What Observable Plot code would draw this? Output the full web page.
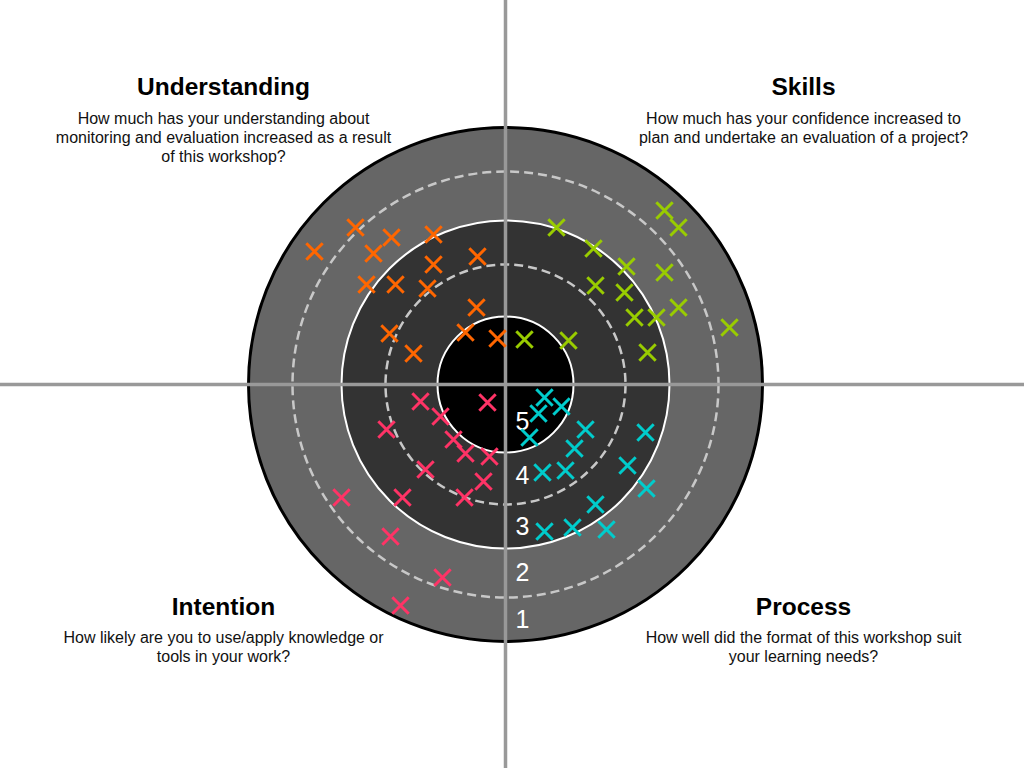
<!DOCTYPE html>
<html>
<head>
<meta charset="utf-8">
<script src="https://cdn.jsdelivr.net/npm/d3@7"></script>
<script src="https://cdn.jsdelivr.net/npm/@observablehq/plot@0.6"></script>
<style>
  html, body { margin: 0; padding: 0; background: #fff; }
  #chart { width: 1024px; height: 768px; overflow: hidden; }
</style>
</head>
<body>
<div id="chart"></div>
<script>
// ---- Data ----
const quadrants = ["Understanding", "Skills", "Intention", "Process"];
const questions = [
  "How much has your understanding about\nmonitoring and evaluation increased as a result\nof this workshop?",
  "How much has your confidence increased to\nplan and undertake an evaluation of a project?",
  "How likely are you to use/apply knowledge or\ntools in your work?",
  "How well did the format of this workshop suit\nyour learning needs?"
];
const quadrantColors = ["#ff6600", "#99cc00", "#ff3366", "#00cccc"];

// score levels (inner to outer) and the outer radius of each ring
const levels = [5, 4, 3, 2, 1];
const ringOuterRadius = [68, 120, 164, 213, 257];

// responses, as [x, y] offsets from the bullseye centre
const understandingPoints = [
  [-191, 133], [-150, 157], [-114, 147], [-132, 131], [-72, 150],
  [-28, 128], [-72, 120], [-139, 100], [-110, 100], [-78, 96],
  [-29, 77], [-116, 51], [-40, 52], [-92, 31], [-8, 46]
];
const skillsPoints = [
  [159, 174], [173, 157], [51, 157], [88, 136], [121, 118],
  [159, 112], [90, 99], [119, 92], [173, 77], [129, 67],
  [151, 67], [224, 57], [19, 45], [63, 44], [142, 32]
];
const intentionPoints = [
  [-85, -17], [-18, -18], [-65, -32], [-119, -45], [-52, -55],
  [-40, -69], [-16, -72], [-80, -85], [-22, -97], [-164, -113],
  [-103, -113], [-41, -113], [-115, -152], [-63, -193], [-105, -221]
];
const processPoints = [
  [39, -13], [33, -29], [56, -22], [24, -53], [80, -45],
  [69, -64], [140, -48], [37, -88], [60, -86], [122, -81],
  [141, -104], [90, -120], [39, -147], [67, -143], [101, -145]
];

// ---- Build tables ----
const pointSets = [understandingPoints, skillsPoints, intentionPoints, processPoints];
const responses = pointSets.flatMap((pts, q) =>
  pts.map(([x, y]) => ({quadrant: quadrants[q], x, y}))
);
const rings = levels.map((level, i) => ({
  level,
  outer: ringOuterRadius[i],
  inner: i === 0 ? 0 : ringOuterRadius[i - 1]
}));
const ringByLevel = Object.fromEntries(rings.map(d => [d.level, d]));

const font = "'Liberation Sans', Arial, Helvetica, sans-serif";
const leftX = -282, rightX = 298;
const quadText = quadrants.map((q, i) => ({
  title: q,
  question: questions[i],
  x: i % 2 === 0 ? leftX : rightX,
  top: i < 2
}));

const chart = Plot.plot({
  width: 1024,
  height: 768,
  margin: 0,
  x: {domain: [-505, 519], axis: null},
  y: {domain: [-384, 384], axis: null},
  r: {type: "identity"},
  color: {domain: quadrants, range: quadrantColors},
  style: {background: "#fff", fontFamily: font},
  marks: [
    // outer band (levels 1-2)
    Plot.dot([ringByLevel[1]], {x: 0, y: 0, r: "outer", fill: "#666", stroke: "#000", strokeWidth: 3}),
    // middle band (levels 3-4)
    Plot.dot([ringByLevel[3]], {x: 0, y: 0, r: "outer", fill: "#333", stroke: "#fff", strokeWidth: 2}),
    // bullseye (level 5)
    Plot.dot([ringByLevel[5]], {x: 0, y: 0, r: "outer", fill: "#000", stroke: "#fff", strokeWidth: 2}),
    // dashed level boundaries
    Plot.dot([ringByLevel[2], ringByLevel[4]], {x: 0, y: 0, r: "outer", fill: "none", stroke: "#c8c8c8", strokeWidth: 2.5, strokeDasharray: "9,5", sort: null}),
    // quadrant dividers
    Plot.ruleX([0], {stroke: "#999", strokeWidth: 3.5}),
    Plot.ruleY([0], {stroke: "#999", strokeWidth: 3.5}),
    // level labels
    Plot.text(rings, {
      x: 17, y: d => -(d.inner + d.outer) / 2 - (d.level === 5 ? 3 : d.level === 4 ? -3 : 0), text: d => String(d.level),
      fill: "#fff", fontSize: 25, lineAnchor: "middle", textAnchor: "middle", fontFamily: font
    }),
    // responses
    Plot.dot(responses, {
      x: "x", y: "y", stroke: "quadrant", symbol: "times", r: 7.5, strokeWidth: 3
    }),
    // quadrant titles
    Plot.text(quadText, {
      x: "x", y: d => d.top ? 297 : -223, text: "title",
      fontSize: 24.5, fontWeight: "bold", fill: "#000", lineAnchor: "middle", textAnchor: "middle", fontFamily: font
    }),
    // questions
    Plot.text(quadText, {
      x: "x", y: d => d.top ? 274 : -245, text: "question",
      fontSize: 16, lineHeight: 1.19, fill: "#111", lineAnchor: "top", textAnchor: "middle", fontFamily: font
    })
  ]
});
document.getElementById("chart").appendChild(chart);
</script>
</body>
</html>
